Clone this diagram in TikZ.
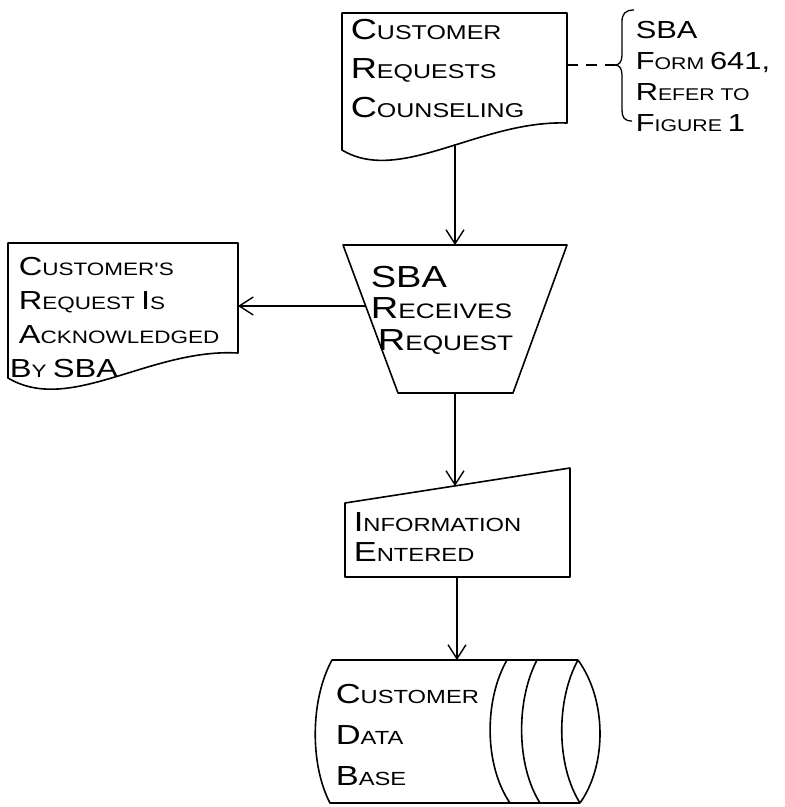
\documentclass[tikz,border=0pt]{standalone}
\usepackage{graphicx}
\usepackage{fontspec}
\setmainfont{Liberation Sans}
\newfontfamily\hand[FakeStretch=1.25]{Liberation Sans}
\usetikzlibrary{arrows.meta}
\newcommand{\ini}[1]{\scalebox{1.45}{#1}}

\begin{document}
\begin{tikzpicture}[x=1pt,y=-1pt,line width=1.6pt,line join=round,
  txt/.style 2 args={anchor=north west,inner sep=0pt,align=left,font=\hand\fontsize{#1}{#2}\selectfont},
  flow/.style={-{Straight Barb[length=14pt,width=18pt,line width=1.4pt]}}]
\useasboundingbox (0,0) rectangle (785,807);

\draw (342,13) -- (567,13) -- (567,123) .. controls (480,120) and (400,185) .. (342,150) -- cycle;
\draw (8,243) -- (238,243) -- (238,353) .. controls (150,348) and (70,415) .. (8,378) -- cycle;
\draw (343,245) -- (567,245) -- (513,393) -- (398,393) -- cycle;
\draw (345,503) -- (570,468) -- (570,577) -- (345,577) -- cycle;
\draw (578,660) -- (332,660) .. controls (310,700) and (310,765) .. (330,803) -- (580,803);
\draw (578,660) .. controls (607,700) and (607,765) .. (580,803);
\draw (578,660) .. controls (556,700) and (556,765) .. (580,803);
\draw (507,660) .. controls (484,700) and (484,765) .. (510,803);
\draw (537,660) .. controls (516,700) and (516,765) .. (540,803);
\draw[line width=1.3pt] (634,10) .. controls (625,10) and (622,14) .. (622,22) -- (622,55)
  .. controls (622,62) and (619,65) .. (615,65) .. controls (619,65) and (622,68) .. (622,75)
  -- (622,110) .. controls (622,117) and (624,121) .. (632,121);

\node[txt={20}{39}] (request) at (350,18) {\ini{C}USTOMER\\\ini{R}EQUESTS\\\ini{C}OUNSELING};
\node[txt={17}{31}] (note) at (635,20) {\ini{SBA}\\\ini{F}ORM \ini{641,}\\\ini{R}EFER TO\\\ini{F}IGURE \ini{1}};
\node[txt={18}{34}] (ack) at (18,256) {\ini{C}USTOMER'S\\\ini{R}EQUEST \ini{I}S\\\ini{A}CKNOWLEDGED\\\hspace*{-9pt}\ini{B}Y \ini{SBA}};
\node[txt={21}{31.5}] (receive) at (370,265) {\ini{SBA}\\\ini{R}ECEIVES\\\hspace*{7pt}\ini{R}EQUEST};
\node[txt={19}{30}] (entry) at (353,512) {\ini{I}NFORMATION\\\ini{E}NTERED};
\node[txt={19}{41}] (base) at (335,683) {\ini{C}USTOMER\\\ini{D}ATA\\\ini{B}ASE};

\coordinate (request-b) at (455,144);
\coordinate (request-r) at (567,65);
\coordinate (note-l) at (615,65);
\coordinate (receive-t) at (455,245);
\coordinate (receive-l) at (366,306);
\coordinate (receive-b) at (455,393);
\coordinate (ack-r) at (238,306);
\coordinate (entry-t) at (455,486);
\coordinate (entry-b) at (457,577);
\coordinate (base-t) at (457,660);

\draw[dash pattern=on 11pt off 8pt] (request-r) -- (note-l);
\draw[flow] (request-b) -- (receive-t);
\draw[flow] (receive-l) -- (ack-r);
\draw[flow] (receive-b) -- (entry-t);
\draw[flow] (entry-b) -- (base-t);
\end{tikzpicture}
\end{document}
